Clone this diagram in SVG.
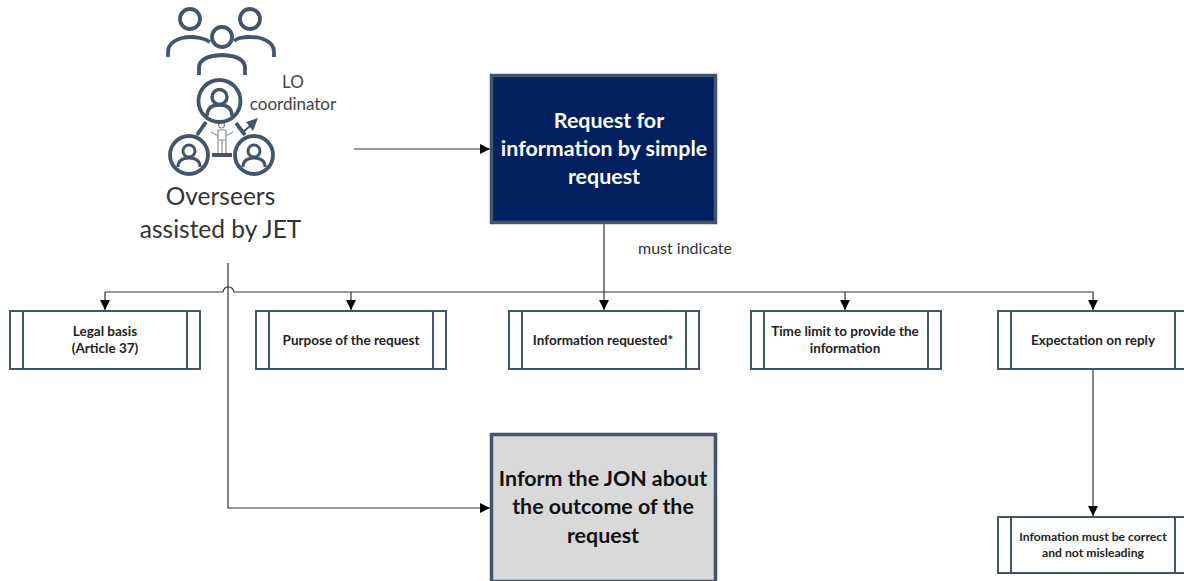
<svg xmlns="http://www.w3.org/2000/svg" width="1184" height="581" viewBox="0 0 1184 581">
<style>
text{font-family:Lato,"Open Sans",sans-serif;text-anchor:middle}
.b{fill:#fff;stroke:#44546a;stroke-width:2}
.s{font-size:13.500px;font-weight:700;fill:#222}
.big{font-size:21.400px;font-weight:700}
.c{fill:none;stroke:#333;stroke-width:1.200}
.i{fill:none;stroke:#44546a;stroke-width:3.800}
.t{font-size:17px;fill:#444}
</style>
<defs><marker id="a" markerUnits="userSpaceOnUse" markerWidth="11" markerHeight="11" refX="10" refY="5.500" orient="auto"><path d="M0 0.500L10 5.500L0 10.500Z" fill="#000"/></marker></defs>
<rect width="1184" height="581" fill="#fff"/>
<g id="connectors">
<path class="c" d="M354 149H490" marker-end="url(#a)"/>
<path class="c" d="M604 223V310" marker-end="url(#a)"/>
<path class="c" d="M105 292H223Q224 287 228 287Q233 287 234 292H1093V310" marker-end="url(#a)"/>
<path class="c" d="M105 292V310" marker-end="url(#a)"/>
<path class="c" d="M351 292V310" marker-end="url(#a)"/>
<path class="c" d="M845 292V310" marker-end="url(#a)"/>
<path class="c" d="M228 263V508H490" marker-end="url(#a)"/>
<path class="c" d="M1093 369V516" marker-end="url(#a)"/>
<text x="685" y="254" style="font-size:16px;fill:#333">must indicate</text>
</g>
<g id="overseers">
<g class="i">
<circle cx="190" cy="19" r="10"/><circle cx="250" cy="19" r="10"/><circle cx="222" cy="37" r="10"/>
<path d="M168 57V52Q168 42 182 38Q190 36 200 38Q206 39 210 42"/>
<path d="M274 57V52Q274 42 260 38Q250 36 240 38Q236 39 234 41"/>
<path d="M199 75V68Q199 56 222 55Q245 56 245 68V75"/>
<circle cx="219.500" cy="101" r="21"/><circle cx="219.500" cy="97" r="7.500" stroke-width="3.400"/><path d="M207 116Q207 105 219.500 105Q232 105 232 116" stroke-width="3.400"/>
<circle cx="189" cy="155" r="19"/><circle cx="189" cy="151" r="6" stroke-width="3"/><path d="M178 167Q178 158 189 158Q200 158 200 167" stroke-width="3"/>
<circle cx="254" cy="155" r="19"/><circle cx="254" cy="151" r="6" stroke-width="3"/><path d="M243 167Q243 158 254 158Q265 158 265 167" stroke-width="3"/>
<path d="M197 135L206 122M236 123L245 135M212 155H232"/>
<path d="M218 154V135H216L211 132M226 154V135H228L233 132M222 154V140M218 130H226V140H218Z" stroke-width="1.200" opacity=".65"/>
<circle cx="221.500" cy="125" r="3" stroke-width="1.200" opacity=".65"/>
<path d="M243 132L250 126" stroke-width="2"/>
</g>
<path d="M258 118L246 122L253 131Z" fill="#44546a"/>
<text class="t" x="293" y="88">LO</text>
<text class="t" x="293" y="110">coordinator</text>
<text x="220.500" y="205" style="font-size:24.500px;fill:#333">Overseers</text>
<text x="220.500" y="238" style="font-size:24.500px;fill:#333">assisted by JET</text>
</g>
<g id="request">
<rect x="491.500" y="75.500" width="224" height="147" fill="#002060" stroke="#44546a" stroke-width="3.500"/>
<text class="big" fill="#fff" x="609" y="128">Request for</text>
<text class="big" fill="#fff" x="604" y="156">information by simple</text>
<text class="big" fill="#fff" x="604" y="184">request</text>
</g>
<g id="inform">
<rect x="491.500" y="434.500" width="224" height="147" fill="#d9d9d9" stroke="#44546a" stroke-width="3.500"/>
<text class="big" fill="#111" x="603" y="486">Inform the JON about</text>
<text class="big" fill="#111" x="603" y="514">the outcome of the</text>
<text class="big" fill="#111" x="603" y="543">request</text>
</g>
<g id="legal"><rect class="b" x="10" y="311" width="190" height="58"/><path class="b" d="M23 311V369M187 311V369"/><text class="s" x="105" y="336">Legal basis</text><text class="s" x="105" y="353">(Article 37)</text></g>
<g id="purpose"><rect class="b" x="256" y="311" width="190" height="58"/><path class="b" d="M269 311V369M433 311V369"/><text class="s" x="351" y="345">Purpose of the request</text></g>
<g id="information"><rect class="b" x="509" y="311" width="190" height="58"/><path class="b" d="M522 311V369M686 311V369"/><text class="s" x="603" y="345">Information requested*</text></g>
<g id="time"><rect class="b" x="751" y="311" width="190" height="58"/><path class="b" d="M764 311V369M928 311V369"/><text class="s" x="845" y="336">Time limit to provide the</text><text class="s" x="845" y="353">information</text></g>
<g id="expectation"><rect class="b" x="998" y="311" width="190" height="58"/><path class="b" d="M1011 311V369M1175 311V369"/><text class="s" x="1093" y="345">Expectation on reply</text></g>
<g id="correct"><rect class="b" x="998" y="517" width="190" height="56"/><path class="b" d="M1011 517V573M1175 517V573"/><text class="s" x="1093" y="541" style="font-size:12.200px">Infomation must be correct</text><text class="s" x="1093" y="557" style="font-size:12.200px">and not misleading</text></g>
</svg>
